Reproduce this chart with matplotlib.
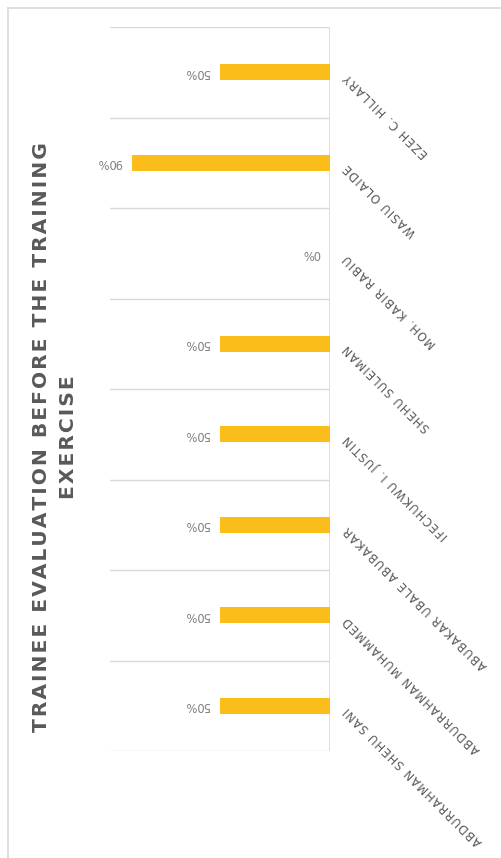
import matplotlib

matplotlib.use("Agg")
import matplotlib.pyplot as plt
from matplotlib.lines import Line2D

trainees = [
    "EZEH C. HILLARY",
    "WASIU OLAIDE",
    "MOH. KABIR RABIU",
    "SHEHU SULEIMAN",
    "IFECHUKWU I. JUSTIN",
    "ABUBAKAR UBALE ABUBAKAR",
    "ABDURRAHMAN MUHAMMED",
    "ABDURRAHMAN SHEHU SANI",
]
scores = [0.50, 0.90, 0.0, 0.50, 0.50, 0.50, 0.50, 0.50]
title_lines = ["TRAINEE EVALUATION BEFORE THE TRAINING", "EXERCISE"]

BAR = "#fbbd19"
GRID = "#d9d9d9"
TEXT = "#595959"
LABEL = "#7f7f7f"

plt.rcParams["font.family"] = ["DejaVu Sans"]


def spaced(s, gap="\u200a"):
    # open up the letters a little, the way the office template does
    return gap.join(s)


W, H = 502, 858
fig = plt.figure(figsize=(W / 100, H / 100), dpi=100)
ax = fig.add_axes([110 / W, 1 - 751 / H, 220 / W, 724 / H])

n = len(trainees)
pos = list(range(n))
ax.barh(pos, scores, height=0.18, color=BAR, zorder=3)

ax.set_ylim(n - 0.5, -0.5)
ax.set_xlim(1.0, 0.0)

# separators between trainees
for b in range(n + 1):
    ax.axhline(b - 0.5, color=GRID, lw=1, zorder=1)
ax.axvline(0, color=GRID, lw=1.2, zorder=2)

for s in ax.spines.values():
    s.set_visible(False)
ax.set_xticks([])
ax.set_yticks([])

# value labels, upside down like the rest of the turned chart
for p, v in zip(pos, scores):
    ax.annotate(f"{v:.0%}", (v, p), xytext=(-10, 0), textcoords="offset pixels",
                ha="right", va="center", rotation=180, fontsize=8.3,
                color=LABEL)

# trainee names running diagonally off the axis
for p, name in zip(pos, trainees):
    ax.annotate(spaced(name), (0, p), xytext=(16, -3), textcoords="offset pixels",
                ha="right", va="center", rotation=135, rotation_mode="anchor",
                fontsize=8.3, color=TEXT)

fig.text(55 / W, 1 - 437 / H, "\n".join(spaced(t) for t in title_lines),
         rotation=90, ha="center", va="center", multialignment="center",
         fontsize=14.6, fontweight="bold", color=TEXT, linespacing=1.5)

# chart frame
fig.add_artist(Line2D([8 / W, 1], [1 - 8 / H, 1 - 8 / H], color=GRID, lw=1.2,
                      transform=fig.transFigure))
fig.add_artist(Line2D([8 / W, 8 / W], [0, 1 - 8 / H], color=GRID, lw=1.2,
                      transform=fig.transFigure))

fig.savefig("out.png", dpi=100)
plt.close(fig)
